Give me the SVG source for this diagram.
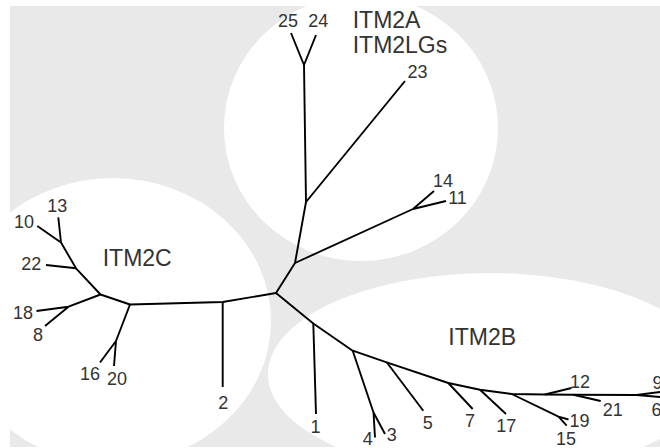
<svg xmlns="http://www.w3.org/2000/svg" width="660" height="448" viewBox="0 0 660 448">
<style>
.bg{fill:#e9e9e9}
.cl{fill:#ffffff}
.e{fill:none;stroke:#000;stroke-width:1.9;stroke-linejoin:round;stroke-linecap:butt}
.n{font-family:"Liberation Sans",Arial,sans-serif;font-size:18px;fill:#333;text-anchor:middle}
.t{font-family:"Liberation Sans",Arial,sans-serif;font-size:23px;fill:#333}
</style>
<rect width="660" height="448" fill="#fff"/>
<rect class="bg" x="10" y="6" width="650" height="441"/>
<g id="clusters">
<ellipse id="cluster-ITM2A" class="cl" cx="361" cy="128" rx="137" ry="133"/>
<ellipse id="cluster-ITM2C" class="cl" cx="113" cy="321" rx="158" ry="143"/>
<ellipse id="cluster-ITM2B" class="cl" cx="490" cy="374" rx="222" ry="101"/>
<rect x="0" y="0" width="660" height="6" fill="#fff"/>
<rect x="0" y="0" width="10" height="448" fill="#fff"/>
</g>
<g id="connectors">
<path class="e" d="M276,293 L295,263 L306,202 L304,65"/>
<path class="e" d="M291,33 L304,65 L316,35"/>
<path class="e" d="M306,202 L405,81"/>
<path class="e" d="M295,263 L413,209 L434,191 M413,209 L446,201"/>
<path class="e" d="M276,293 L222.7,302 L130,304.5 L100.5,294.5 L76,268.3 L61,242.5 L58.3,217.3 M61,242.5 L37.3,226"/>
<path class="e" d="M76,268.3 L46,265"/>
<path class="e" d="M100.5,294.5 L68.5,306.7 L36.5,311 M68.5,306.7 L45,326"/>
<path class="e" d="M130,304.5 L116,341 L100,362.5 M116,341 L114,366"/>
<path class="e" d="M222.7,302 L222.7,387"/>
<path class="e" d="M276,293 L313.3,323.5 L352.7,350.7 L386.7,362.3 L448.3,383 L480,389.7 L511.7,394 L545,394.5 L573.3,394.7 L636.5,395 L660,392"/>
<path class="e" d="M636.5,395 L660,397"/>
<path class="e" d="M313.3,323.5 L316,414"/>
<path class="e" d="M352.7,350.7 L373.5,412.5 L375,437.5 M373.5,412.5 L385,434"/>
<path class="e" d="M386.7,362.3 L423.3,410.7"/>
<path class="e" d="M448.3,383 L472.7,409"/>
<path class="e" d="M480,389.7 L506,414"/>
<path class="e" d="M511.7,394 L558.5,416.7 L568.5,419.5 M558.5,416.7 L566.7,425.7"/>
<path class="e" d="M545,394.5 L571.5,388"/>
<path class="e" d="M573.3,394.7 L600.7,401"/>
</g>
<g id="labels-groups">
<text class="t" x="352.7" y="28.3">ITM2A</text>
<text class="t" x="352.7" y="53.3">ITM2LGs</text>
<text class="t" x="102.7" y="265.7">ITM2C</text>
<text class="t" x="448.3" y="344.7">ITM2B</text>
</g>
<g id="leaf-labels">
<g id="n25"><text class="n" x="288" y="27">25</text></g>
<g id="n24"><text class="n" x="318.3" y="27">24</text></g>
<g id="n23"><text class="n" x="417.5" y="78.3">23</text></g>
<g id="n14"><text class="n" x="443" y="187.3">14</text></g>
<g id="n11"><text class="n" x="457.5" y="204.3">11</text></g>
<g id="n13"><text class="n" x="57.2" y="212">13</text></g>
<g id="n10"><text class="n" x="24" y="228">10</text></g>
<g id="n22"><text class="n" x="31.2" y="269.7">22</text></g>
<g id="n18"><text class="n" x="23" y="319">18</text></g>
<g id="n8"><text class="n" x="38" y="341.3">8</text></g>
<g id="n16"><text class="n" x="90" y="380">16</text></g>
<g id="n20"><text class="n" x="117" y="385">20</text></g>
<g id="n2"><text class="n" x="223.3" y="409.3">2</text></g>
<g id="n1"><text class="n" x="315.5" y="433">1</text></g>
<g id="n4"><text class="n" x="367.7" y="444.7">4</text></g>
<g id="n3"><text class="n" x="391.7" y="441.3">3</text></g>
<g id="n5"><text class="n" x="427.7" y="429">5</text></g>
<g id="n7"><text class="n" x="470" y="427.3">7</text></g>
<g id="n17"><text class="n" x="506.3" y="432.3">17</text></g>
<g id="n19"><text class="n" x="579.5" y="427">19</text></g>
<g id="n15"><text class="n" x="566" y="445">15</text></g>
<g id="n12"><text class="n" x="580" y="388">12</text></g>
<g id="n21"><text class="n" x="612.7" y="416">21</text></g>
<g id="n9"><text class="n" x="652.5" y="389" style="text-anchor:start">9</text></g>
<g id="n6"><text class="n" x="651.5" y="416" style="text-anchor:start">6</text></g>
</g>
</svg>
